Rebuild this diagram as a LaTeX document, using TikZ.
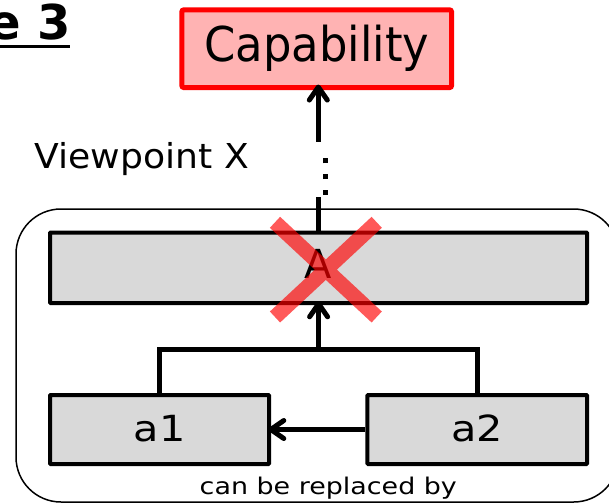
\documentclass[tikz,border=0pt]{standalone}
\usepackage{fontspec}
\setmainfont{DejaVu Sans}
\usepackage{graphicx}
\usetikzlibrary{arrows.meta}
\definecolor{boxgray}{HTML}{D9D9D9}
\definecolor{capfill}{HTML}{FFB3B3}
\begin{document}
\begin{tikzpicture}[x=1pt,y=-1pt,
  conn/.style={line width=5pt, black},
  tipped/.style={-{Straight Barb[length=13pt,width=18pt,round]}},
  graybox/.style={draw=black, line width=4pt, fill=boxgray, inner sep=0pt,
    rectangle, rounded corners=0.8pt},
  plain/.style={inner sep=0pt},
  crossmark/.style={red, opacity=0.65, line width=15pt, line cap=butt}]
\useasboundingbox (0,0) rectangle (609,503);

% title, cut at the left edge
\node[plain, anchor=base east] (title) at (71,40)
  {\fontsize{48}{48}\selectfont\bfseries e 3};
\coordinate (ulL) at (0,46.7);
\coordinate (ulR) at (70,46.7);
\draw[line width=2.5pt] (ulL) -- (ulR);

% capability box
\node[draw=red, line width=5pt, fill=capfill, rounded corners=2pt, inner sep=0pt,
  minimum width=269.7pt, minimum height=77.7pt, text height=36.5pt, text depth=11.3pt]
  (cap) at (316.7,48.7) {\fontsize{48}{48}\selectfont\scalebox{0.935}[1]{Capability}};

\node[plain, anchor=base west] (vp) at (34.5,168)
  {\fontsize{34.3}{34.3}\selectfont\scalebox{1.054}[1]{Viewpoint X}};

% frame around the viewpoint
\node[draw, line width=1.5pt, rounded corners=45pt, inner sep=0pt,
  minimum width=602.6pt, minimum height=293pt] (frame) at (317.3,355.5) {};

% elements
\node[graybox, minimum width=537.2pt, minimum height=70.5pt,
  text height=29pt, text depth=8.4pt] (A) at (318.6,267.75)
  {\fontsize{40}{40}\selectfont A};
\node[graybox, minimum width=219pt, minimum height=69pt,
  text height=26pt, text depth=3pt] (a1) at (159.5,429.5)
  {\fontsize{36}{36}\selectfont\scalebox{1.15}[1]{a1}};
\node[graybox, minimum width=219.7pt, minimum height=69pt,
  text height=26pt, text depth=3pt] (a2) at (477.2,429.5)
  {\fontsize{36}{36}\selectfont\scalebox{1.15}[1]{a2}};

\node[plain, anchor=base] (repl) at (328.3,494.3)
  {\fontsize{23}{23}\selectfont\scalebox{1.17}[1]{can be replaced by}};

% A up to the capability, interrupted by dots
\coordinate (stubtop) at (318.6,196.7);
\coordinate (dotlo) at (325.7,195);
\coordinate (dothi) at (325.7,158);
\coordinate (shaftlo) at (318.3,141.7);
\draw[conn] (A.north) -- (stubtop);
\draw[line width=5pt, dash pattern=on 5pt off 10.8pt] (dotlo) -- (dothi);
\draw[conn, tipped, shorten >=-5.5pt] (shaftlo) -- (shaftlo |- cap.south);

% a1 and a2 realise A
\coordinate (junc) at (318.6,349);
\draw[conn] (a1.north) |- (junc) -| (a2.north);
\draw[conn, tipped, shorten >=-3.7pt] (junc) -- (A.south);
\draw[conn, tipped, shorten >=-2.7pt] (a2.west) -- (a1.east);

% A is crossed out
\draw[crossmark] (275,222.3) -- (376.7,317) (376.7,222.3) -- (275,317);
\end{tikzpicture}
\end{document}
